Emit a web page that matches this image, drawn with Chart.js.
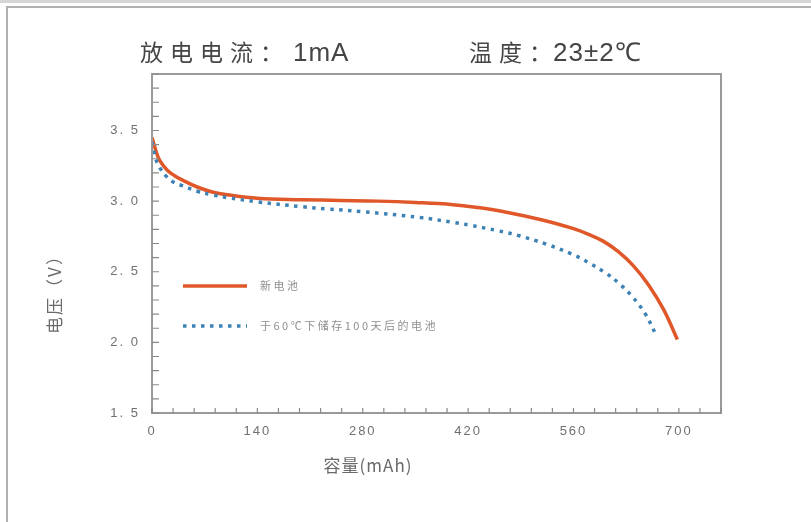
<!DOCTYPE html>
<html>
<head>
<meta charset="utf-8">
<script src="https://cdn.jsdelivr.net/npm/chart.js@4.4.1/dist/chart.umd.min.js"></script>
<style>
html,body{margin:0;padding:0;background:#fff;}
#wrap{position:relative;width:811px;height:522px;}
</style>
</head>
<body>
<div id="wrap"><canvas id="c" width="811" height="522"></canvas></div>
<script>
// ---- data ----
const titleLeftCJK = "放电电流：";
const titleLeftVal = "1mA";
const titleRightCJK = "温度：";
const titleRightVal = "23±2℃";
const xAxisTitle = "容量(mAh)";
const yAxisTitle = "电压（V）";
const seriesNames = ["新电池", "于60℃下储存100天后的电池"];

const newX = [0, 5, 10, 20, 30, 40, 60, 80, 100, 140, 200, 250, 300, 350, 400, 430, 466, 520, 560, 580, 600, 620, 640, 660, 680, 698];
const newV = [3.45, 3.36, 3.29, 3.22, 3.18, 3.15, 3.10, 3.065, 3.045, 3.02, 3.01, 3.005, 3.0, 2.99, 2.975, 2.957, 2.927, 2.865, 2.805, 2.765, 2.715, 2.64, 2.54, 2.405, 2.23, 2.02];

const oldX = [0, 5, 10, 20, 30, 40, 60, 80, 100, 140, 200, 232, 280, 355, 400, 422, 460, 488, 524, 558, 580, 603, 620, 638, 655, 670];
const oldV = [3.42, 3.30, 3.24, 3.17, 3.13, 3.11, 3.07, 3.045, 3.025, 2.995, 2.96, 2.945, 2.925, 2.885, 2.85, 2.83, 2.79, 2.755, 2.695, 2.625, 2.565, 2.49, 2.42, 2.325, 2.205, 2.05];

const xMin = 0, xMax = 756, xStep = 28, xLabelEvery = 140;
const yMin = 1.5, yMax = 3.9, yStep = 0.1, yLabelEvery = 0.5;

const toPts = (xs, ys) => xs.map((x, i) => ({x: x, y: ys[i]}));

const ORANGE = "#e0582a";
const BLUE = "#3d82b4";

const decor = {
  id: 'decor',
  beforeDraw(chart) {
    const ctx = chart.ctx;
    ctx.save();
    ctx.fillStyle = "#d6d6d6";
    ctx.fillRect(0, 0, 811, 3);
    ctx.strokeStyle = "#b0b0b0";
    ctx.lineWidth = 2;
    ctx.beginPath();
    ctx.moveTo(811, 7); ctx.lineTo(7, 7); ctx.lineTo(7, 522);
    ctx.stroke();
    ctx.restore();
    ctx.letterSpacing = "2px";
  },
  afterDatasetsDraw(chart) {
    const ctx = chart.ctx;
    const a = chart.chartArea;
    const xs = chart.scales.x, ys = chart.scales.y;
    ctx.save();
    ctx.strokeStyle = "#9a9a9a";
    ctx.lineWidth = 2;
    ctx.strokeRect(a.left, a.top, a.right - a.left, a.bottom - a.top);
    ctx.strokeStyle = "#8a8a8a";
    ctx.lineWidth = 1.2;
    ctx.beginPath();
    xs.ticks.forEach(t => {
      const px = xs.getPixelForValue(t.value);
      ctx.moveTo(px, a.bottom); ctx.lineTo(px, a.bottom - 5);
    });
    ys.ticks.forEach(t => {
      const py = ys.getPixelForValue(t.value);
      ctx.moveTo(a.left, py); ctx.lineTo(a.left + 7, py);
    });
    ctx.stroke();
    // titles
    ctx.fillStyle = "#454545";
    ctx.textAlign = "left";
    ctx.textBaseline = "alphabetic";
    ctx.font = "23px 'Noto Sans CJK SC'";
    ctx.letterSpacing = "7px";
    ctx.fillText(titleLeftCJK, 140, 61);
    ctx.letterSpacing = "7px";
    ctx.fillText(titleRightCJK, 469, 61);
    ctx.letterSpacing = "1px";
    ctx.font = "26px 'Liberation Sans', Arial";
    ctx.fillText(titleLeftVal, 293, 61);
    ctx.fillText(titleRightVal, 553, 61);
    // axis titles
    ctx.fillStyle = "#6a6a6a";
    ctx.textAlign = "center";
    ctx.textBaseline = "middle";
    ctx.letterSpacing = "1px";
    ctx.font = "17px 'Noto Sans CJK SC'";
    ctx.fillText(xAxisTitle, 368, 466);
    ctx.save();
    ctx.translate(55, 290);
    ctx.rotate(-Math.PI / 2);
    ctx.letterSpacing = "2px";
    ctx.fillText(yAxisTitle, 0, 0);
    ctx.restore();
    // legend
    ctx.textAlign = "left";
    ctx.lineWidth = 3.5;
    ctx.strokeStyle = ORANGE;
    ctx.beginPath(); ctx.moveTo(183, 286); ctx.lineTo(247, 286); ctx.stroke();
    ctx.strokeStyle = BLUE;
    ctx.setLineDash([3.5, 5.5]);
    ctx.beginPath(); ctx.moveTo(183, 326); ctx.lineTo(247, 326); ctx.stroke();
    ctx.setLineDash([]);
    ctx.fillStyle = "#8f8f8f";
    ctx.font = "11px 'Noto Sans CJK SC'";
    ctx.letterSpacing = "2.5px";
    ctx.fillText(seriesNames[0], 260, 286);
    ctx.fillText(seriesNames[1], 260, 326);
    ctx.restore();
  }
};

new Chart(document.getElementById('c'), {
  type: 'scatter',
  data: {
    datasets: [
      {
        label: seriesNames[1],
        data: toPts(oldX, oldV),
        showLine: true,
        borderColor: BLUE,
        borderWidth: 3.5,
        borderDash: [3.5, 5.5],
        pointRadius: 0,
        tension: 0.4,
        fill: false
      },
      {
        label: seriesNames[0],
        data: toPts(newX, newV),
        showLine: true,
        borderColor: ORANGE,
        borderWidth: 3.5,
        pointRadius: 0,
        tension: 0.4,
        fill: false
      }
    ]
  },
  options: {
    responsive: false,
    animation: false,
    devicePixelRatio: 1,
    layout: {padding: {left: 40, right: 90, top: 74, bottom: 50}},
    plugins: {legend: {display: false}, title: {display: false}, tooltip: {enabled: false}},
    scales: {
      x: {
        type: 'linear', min: xMin, max: xMax,
        border: {display: false},
        grid: {display: false, drawTicks: false},
        afterFit(s) { s.height = 59; },
        ticks: {
          stepSize: xStep, autoSkip: false, maxRotation: 0, padding: 11,
          color: "#707070", font: {size: 13, family: "'Liberation Sans', Arial"},
          callback: v => (v % xLabelEvery === 0 ? String(v) : '')
        }
      },
      y: {
        type: 'linear', min: yMin, max: yMax,
        border: {display: false},
        grid: {display: false, drawTicks: false},
        afterFit(s) { s.width = 112; },
        ticks: {
          stepSize: yStep, autoSkip: false, padding: 12,
          color: "#707070", font: {size: 13, family: "'Liberation Sans', Arial"},
          callback: v => {
            const k = Math.round(v * 10);
            if (k % Math.round(yLabelEvery * 10) !== 0) return '';
            return (k / 10).toFixed(1).replace('.', '. ');
          }
        }
      }
    }
  },
  plugins: [decor]
});
</script>
</body>
</html>
